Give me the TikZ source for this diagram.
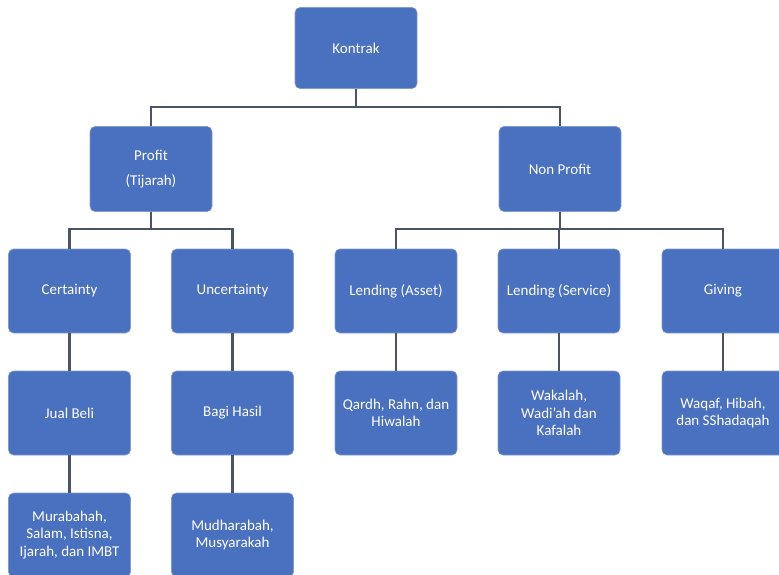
\documentclass[tikz,border=0pt]{standalone}
\usepackage{fontspec}
\setmainfont{Carlito}
\definecolor{boxblue}{HTML}{4A70C0}
\definecolor{linegray}{HTML}{4B5366}
\begin{document}
\begin{tikzpicture}[x=1pt,y=-1pt,
  box/.style={rectangle, rounded corners=5pt, fill=boxblue, draw=boxblue!70!white, line width=0.6pt,
    minimum width=122pt, minimum height=84pt, inner sep=2pt, align=center, text=white,
    font=\fontsize{15}{17.5}\selectfont},
  conn/.style={draw=linegray, line width=2.4pt}]
\useasboundingbox (0,0) rectangle (779,575);
\fill[white] (0,0) rectangle (779,575);
\node[box, minimum height=81pt] (k) at (356,48) {Kontrak};
\node[box, minimum height=85pt] (p) at (151,169) {Profit\\[8pt](Tijarah)};
\node[box, minimum height=85pt] (np) at (560,169) {Non Profit};
\node[box] (c) at (69.5,291) {Certainty};
\node[box] (u) at (232.5,291) {Uncertainty};
\node[box] (la) at (396,291) {Lending (Asset)};
\node[box] (ls) at (559,291) {Lending (Service)};
\node[box] (g) at (723,291) {Giving};
\node[box] (jb) at (69.5,413) {Jual Beli};
\node[box] (bh) at (232.5,413) {Bagi Hasil};
\node[box] (q) at (396,413) {Qardh, Rahn, dan\\Hiwalah};
\node[box] (w) at (559,413) {Wakalah,\\Wadi'ah dan\\Kafalah};
\node[box] (wq) at (723,413) {Waqaf, Hibah,\\dan SShadaqah};
\node[box] (m) at (69.5,535) {Murabahah,\\Salam, Istisna,\\Ijarah, dan IMBT};
\node[box] (mu) at (232.5,535) {Mudharabah,\\Musyarakah};
\draw[conn] (k.south) -- ++(0,18) -| (p.north);
\draw[conn] (k.south) -- ++(0,18) -| (np.north);
\draw[conn] (p.south) -- ++(0,17) -| (c.north);
\draw[conn] (p.south) -- ++(0,17) -| (u.north);
\draw[conn] (np.south) -- ++(0,17) -| (la.north);
\draw[conn] (np.south) -- ++(0,17) -| (ls.north);
\draw[conn] (np.south) -- ++(0,17) -| (g.north);
\draw[conn] (c.south) -- (jb.north);
\draw[conn] (u.south) -- (bh.north);
\draw[conn] (la.south) -- (q.north);
\draw[conn] (ls.south) -- (w.north);
\draw[conn] (g.south) -- (wq.north);
\draw[conn] (jb.south) -- (m.north);
\draw[conn] (bh.south) -- (mu.north);
\end{tikzpicture}
\end{document}
